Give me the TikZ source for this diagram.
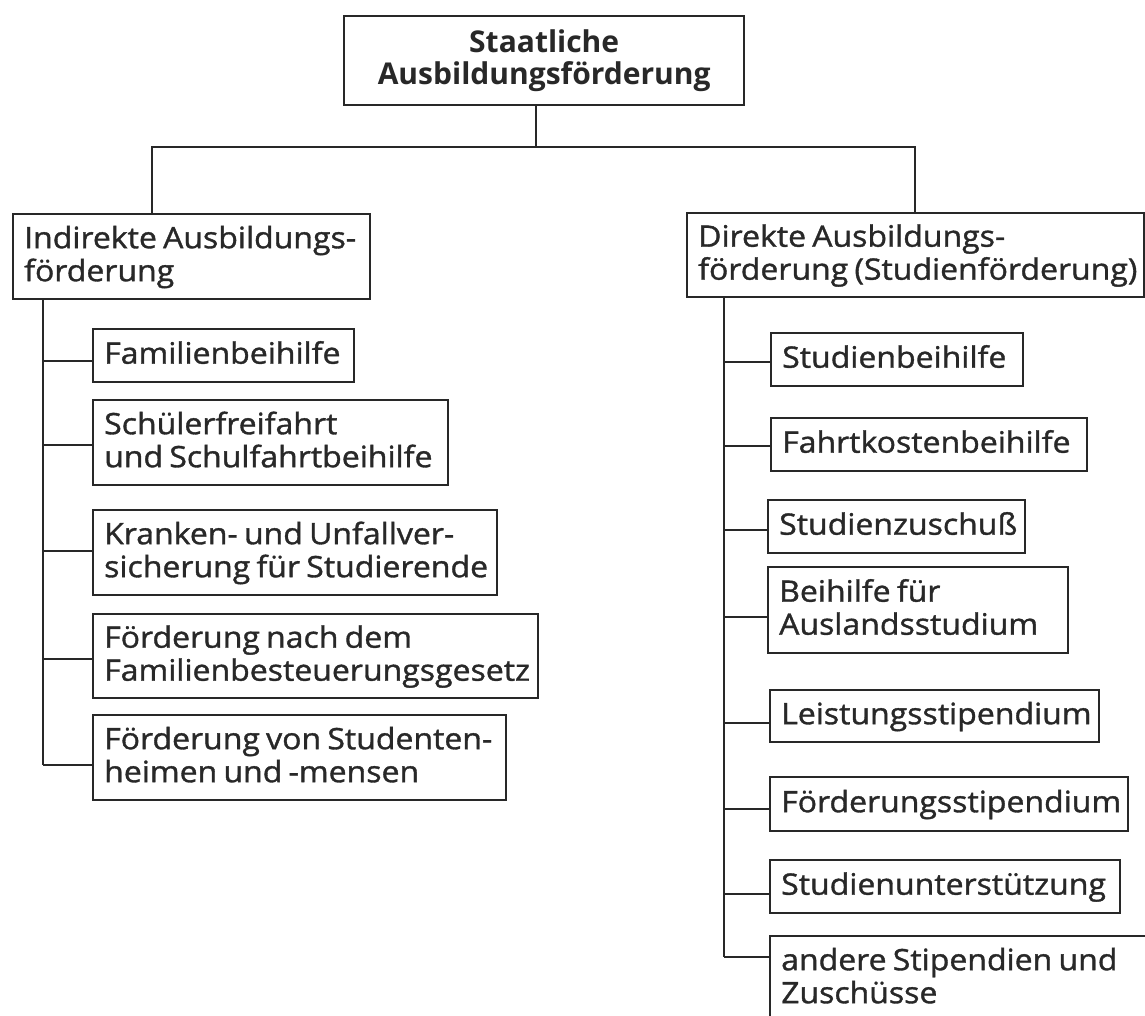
\documentclass[tikz,border=0pt]{standalone}
\usepackage{fontspec}
\setmainfont{Open Sans}
\newfontfamily\regfont{Open Sans}[FakeStretch=1.085,FakeBold=1.2]
\newfontfamily\titlefont{Open Sans}[FakeStretch=1.0]
\definecolor{ink}{RGB}{40,40,40}
\begin{document}
\begin{tikzpicture}[x=1pt,y=-1pt,
  box/.style={draw=ink, text=ink, line width=2.4pt, anchor=north west, align=left,
    inner xsep=11pt, inner ysep=0pt,
    font=\regfont\fontsize{29.5}{33}\selectfont,
    execute at begin node={\hyphenpenalty=10000\relax\exhyphenpenalty=10000\relax\spaceskip=6.2pt\relax}},
  one/.style={text height=23pt, text depth=7pt},
  two/.style={text height=23pt, text depth=40pt},
  link/.style={draw=ink, line width=2.2pt}]
\clip (0,0) rectangle (1145,1016);
\fill[white] (0,0) rectangle (1145,1016);

% top
\node[box, two, align=center, text depth=39pt,
  font=\titlefont\bfseries\fontsize{30}{32}\selectfont, text width=378pt, minimum height=89pt]
  (top) at (343,15) {Staatliche\\Ausbildungsförderung};

% level 2
\node[box, two, text width=335pt, minimum height=85pt] (ind) at (12,213)
  {Indirekte~Ausbildungs-\\förderung};
\node[box, two, text width=435pt, minimum height=84pt] (dir) at (686,212)
  {Direkte~Ausbildungs-\\förderung~(Studienförderung)};

% left children
\node[box, one, text width=239pt, minimum height=53pt] (f1) at (92,328) {Familienbeihilfe};
\node[box, two, text width=333pt, minimum height=85pt] (f2) at (92,399) {Schülerfreifahrt\\und~Schulfahrtbeihilfe};
\node[box, two, text width=382pt, minimum height=85pt] (f3) at (92,509) {Kranken-~und~Unfallver-\\sicherung~für~Studierende};
\node[box, two, text width=423pt, minimum height=84pt] (f4) at (92,613) {Förderung~nach~dem\\Familienbesteuerungsgesetz};
\node[box, two, text width=391pt, minimum height=85pt] (f5) at (92,714) {Förderung~von~Studenten-\\heimen~und~-mensen};

% right children
\node[box, one, text width=230pt, minimum height=53pt] (s1) at (770,332) {Studienbeihilfe};
\node[box, one, text width=294pt, minimum height=53pt] (s2) at (770,417) {Fahrtkostenbeihilfe};
\node[box, one, text width=235pt, minimum height=53pt] (s3) at (767,499) {Studienzuschuß};
\node[box, two, text width=278pt, minimum height=86pt] (s4) at (767,566) {Beihilfe~für\\Auslandsstudium};
\node[box, one, text width=307pt, minimum height=52pt] (s5) at (769,689) {Leistungsstipendium};
\node[box, one, text width=336pt, minimum height=54pt] (s6) at (769,776) {Förderungsstipendium};
\node[box, one, text width=328pt, minimum height=53pt] (s7) at (769,859) {Studienunterstützung};
\node[box, two, text width=368pt, minimum height=85pt] (s8) at (769,935) {andere~Stipendien~und\\Zuschüsse};

% connectors
\coordinate (jl) at (152,147);
\coordinate (jr) at (915,147);
\coordinate (ls) at (43,0);
\coordinate (rs) at (724,0);
\draw[link] ([xshift=-8pt]top.south) -- ([xshift=-8pt]top.south |- jl);
\draw[link] (jl |- ind.north) -- (jl) -- (jr) -- (jr |- dir.north);

\foreach \n/\d in {f1/-5, f2/-2.5, f3/1.5, f4/-3, f5/-7.5} {
  \coordinate (\n-in) at ([yshift=\d pt]\n.west);
  \draw[link] (ls |- \n-in) -- (\n-in);
}
\foreach \n/\d in {s1/-2.5, s2/-1.5, s3/-3.5, s4/-7, s5/-7, s6/-5, s7/-7.5, s8/21.5} {
  \coordinate (\n-in) at ([yshift=\d pt]\n.west);
  \draw[link] (rs |- \n-in) -- (\n-in);
}
\draw[link] (ls |- ind.south) -- (ls |- f5-in);
\draw[link] (rs |- dir.south) -- (rs |- s8-in);
\end{tikzpicture}
\end{document}
